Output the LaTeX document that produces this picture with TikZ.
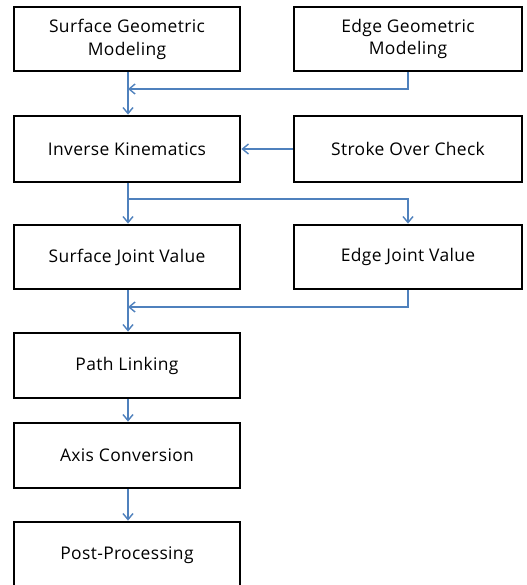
\documentclass[tikz,border=0pt]{standalone}
\usepackage{fontspec}
\setmainfont{Open Sans}[LetterSpace=2]
\usetikzlibrary{arrows.meta}
\definecolor{flowblue}{RGB}{79,129,189}
\tikzset{
  stepbox/.style={draw=black, line width=2.8bp, fill=white, rectangle,
    minimum width=226bp, minimum height=64bp, inner sep=0pt, align=center,
    font=\fontsize{17.5}{23}\selectfont},
  flow/.style={draw=flowblue, line width=1.4bp,
    -{Straight Barb[length=6bp, width=10bp, line width=1.4bp]}},
}
\begin{document}
\begin{tikzpicture}[x=1bp, y=-1bp]
  \useasboundingbox (0,0) rectangle (527,585);
  \fill[white] (0,0) rectangle (527,585);

  % left column
  \node[stepbox] (sgm) at (127,39) {Surface Geometric\\Modeling};
  \node[stepbox, minimum height=66bp] (ik) at (127,149) {Inverse Kinematics};
  \node[stepbox] (sjv) at (127,257) {Surface Joint Value};
  \node[stepbox, minimum height=65bp] (pl) at (127,365.5) {Path Linking};
  \node[stepbox, minimum height=65bp] (ac) at (127,455.5) {Axis Conversion};
  \node[stepbox, minimum height=66bp] (pp) at (127,555) {Post-Processing};

  % right column
  \node[stepbox, minimum width=228bp] (egm) at (408,39) {Edge Geometric\\Modeling};
  \node[stepbox, minimum width=228bp, minimum height=66bp] (soc) at (408,149) {Stroke Over Check};
  \node[stepbox, minimum width=228bp] (ejv) at (408,257) {Edge Joint Value};

  % junction points
  \coordinate (m1) at (128,89);
  \coordinate (s1) at (128,199);
  \coordinate (m2) at (128,307);

  % connectors
  \draw[flow] (sgm.south -| m1) -- (ik.north -| m1);
  \draw[flow] (egm.south) |- (m1);
  \draw[flow] (soc.west) -- (ik.east);
  \draw[flow] (ik.south -| s1) -- (sjv.north -| s1);
  \draw[flow] (s1) -| (ejv.north);
  \draw[flow] (sjv.south -| m2) -- (pl.north -| m2);
  \draw[flow] (ejv.south) |- (m2);
  \draw[flow] (pl.south -| m2) -- (ac.north -| m2);
  \draw[flow] (ac.south -| m2) -- (pp.north -| m2);
\end{tikzpicture}
\end{document}
